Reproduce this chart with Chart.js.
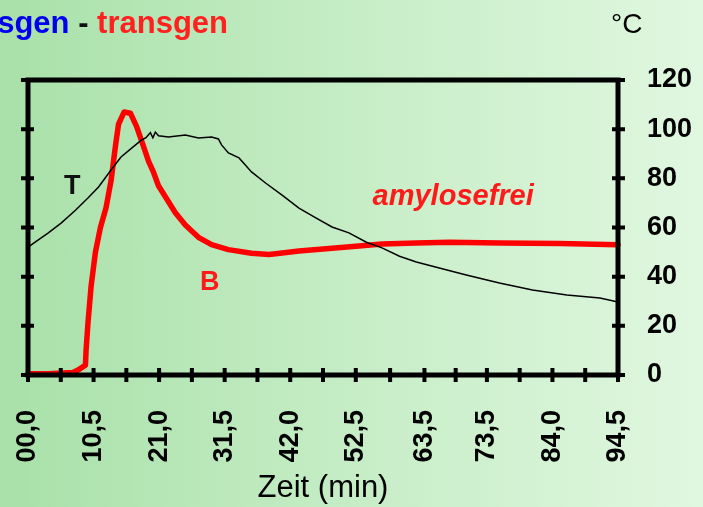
<!DOCTYPE html>
<html>
<head>
<meta charset="utf-8">
<script src="https://cdn.jsdelivr.net/npm/chart.js@4/dist/chart.umd.min.js"></script>
<style>
  html, body { margin: 0; padding: 0; }
  body {
    width: 703px; height: 507px; overflow: hidden;
    background: linear-gradient(to right, #a8e0a8 0%, #c6edc6 50%, #e0f7e0 100%);
  }
  canvas { display: block; }
</style>
</head>
<body>
<canvas id="chart" width="703" height="507"></canvas>
<script>
// temperature T (black), minutes / °C
const timeT = [0, 3.2, 5.3, 7.6, 9.6, 11.3, 13.3, 14.9, 16.6, 18.2, 18.9, 19.6, 20.0, 20.4, 20.9, 22.5, 25.2, 27.3, 29.4, 30.5, 31.0, 32.1, 33.8, 35.8, 38.1, 40.7, 43.4, 46.1, 48.7, 51.4, 54.2, 56.7, 59.5, 62.2, 64.8, 70.2, 75.5, 80.8, 86.3, 91.6, 94.5];
const tempT = [52, 57.7, 61.8, 67, 72, 76.5, 83.4, 88.7, 92.3, 95.6, 96.5, 98.6, 96.5, 98.8, 97.3, 96.8, 97.6, 96.4, 96.8, 96, 93.6, 90.3, 88.3, 82.6, 78, 73.2, 67.9, 63.9, 60.2, 57.8, 54, 51.7, 48.3, 46, 44.2, 40.7, 37.4, 34.6, 32.5, 31.3, 29.7];

// viscosity B (red)
const timeB = [0, 3.2, 7.2, 8.0, 9.2, 9.3, 9.6, 10.1, 10.8, 11.6, 12.5, 13.3, 14.0, 14.5, 15.4, 16.4, 17.4, 18.5, 19.3, 20.1, 20.9, 22.0, 23.6, 25.2, 27.3, 29.4, 32.1, 35.8, 38.6, 40.7, 43.4, 48.7, 53.0, 56.7, 62.2, 67.5, 75.6, 85.2, 94.5];
const valB = [0.5, 0.5, 1, 2, 4, 10, 21, 36, 50, 60, 68, 79, 93, 102, 107, 106.5, 101, 93, 87, 82.5, 77, 72.5, 66, 61, 56, 53, 51, 49.5, 49, 49.6, 50.4, 51.6, 52.5, 53.3, 53.7, 54, 53.7, 53.5, 53];

// x axis labels
const xTickValues = [0, 10.5, 21, 31.5, 42, 52.5, 63.5, 73.5, 84, 94.5];
const xTickLabels = ["00,0", "10,5", "21,0", "31,5", "42,0", "52,5", "63,5", "73,5", "84,0", "94,5"];

const FONT = "'Liberation Sans', Arial, sans-serif";

function zip(xs, ys) {
    return xs.map((x, i) => ({ x: x, y: ys[i] }));
}

// frame, crossing tick marks, texts
const decor = {
    id: 'decor',
    afterDatasetsDraw(chart) {
        const ctx = chart.ctx;
        const a = chart.chartArea;
        const xs = chart.scales.x;
        const ys = chart.scales.y;
        ctx.save();
        ctx.strokeStyle = '#000';
        ctx.lineWidth = 5;
        ctx.strokeRect(a.left, a.top, a.right - a.left, a.bottom - a.top);

        ctx.lineWidth = 4;
        ctx.beginPath();
        // x ticks: label positions and the midpoints between them
        for (let i = 0; i < xTickValues.length; i++) {
            let vals = [xTickValues[i]];
            if (i < xTickValues.length - 1) vals.push((xTickValues[i] + xTickValues[i + 1]) / 2);
            vals.forEach(v => {
                const px = xs.getPixelForValue(v);
                ctx.moveTo(px, a.bottom - 7);
                ctx.lineTo(px, a.bottom + 7);
            });
        }
        ys.ticks.forEach(t => {
            const py = ys.getPixelForValue(t.value);
            ctx.moveTo(a.left - 7, py); ctx.lineTo(a.left + 6, py);
            ctx.moveTo(a.right - 6, py); ctx.lineTo(a.right + 7, py);
        });
        ctx.stroke();

        // heading
        ctx.textBaseline = 'alphabetic';
        ctx.font = 'bold 31px ' + FONT;
        ctx.textAlign = 'right';
        ctx.fillStyle = '#ff2020';
        ctx.fillText('transgen', 228, 33);
        let w = ctx.measureText('transgen').width;
        ctx.fillStyle = '#111';
        ctx.fillText(' - ', 228 - w, 33);
        w += ctx.measureText(' - ').width;
        ctx.fillStyle = '#0000ee';
        ctx.fillText('sgen', 228 - w, 33);

        ctx.font = '28px ' + FONT;
        ctx.fillStyle = '#000';
        ctx.textAlign = 'left';
        ctx.fillText('°C', 611, 33);

        // curve names
        ctx.textAlign = 'center';
        ctx.textBaseline = 'middle';
        ctx.font = 'bold 27px ' + FONT;
        ctx.fillStyle = '#111';
        ctx.fillText('T', xs.getPixelForValue(7.1), ys.getPixelForValue(76.5));
        ctx.fillStyle = '#ff1a1a';
        ctx.fillText('B', xs.getPixelForValue(29.1), ys.getPixelForValue(37.8));
        ctx.font = 'italic bold 29px ' + FONT;
        ctx.fillText('amylosefrei', xs.getPixelForValue(68.1), ys.getPixelForValue(72.4));
        ctx.restore();
    }
};

new Chart(document.getElementById('chart'), {
    type: 'line',
    data: {
        datasets: [{
            label: 'T',
            data: zip(timeT, tempT),
            borderColor: '#000',
            borderWidth: 1.5,
            pointRadius: 0,
            tension: 0,
            clip: false
        }, {
            label: 'B',
            data: zip(timeB, valB),
            borderColor: '#ff0000',
            borderWidth: 5.5,
            borderJoinStyle: 'round',
            borderCapStyle: 'round',
            pointRadius: 0,
            tension: 0,
            clip: false
        }]
    },
    options: {
        responsive: false,
        animation: false,
        layout: { padding: { left: 28, top: 80, right: 0, bottom: 0 } },
        plugins: { legend: { display: false }, tooltip: { enabled: false } },
        scales: {
            x: {
                type: 'linear',
                min: 0,
                max: 94.5,
                grid: { display: false, drawTicks: false },
                border: { display: false },
                afterBuildTicks: scale => {
                    scale.ticks = xTickValues.map(v => ({ value: v }));
                },
                afterFit: scale => {
                    scale.height = 132;
                    scale.paddingLeft = 0;
                    scale.paddingRight = 0;
                },
                ticks: {
                    autoSkip: false,
                    minRotation: 90,
                    maxRotation: 90,
                    padding: 35,
                    color: '#000',
                    font: { family: FONT, size: 27, weight: 'bold' },
                    callback: (v, i) => xTickLabels[i]
                },
                title: {
                    display: true,
                    text: 'Zeit (min)',
                    color: '#000',
                    padding: { top: 0, bottom: 0 },
                    font: { family: FONT, size: 31 }
                }
            },
            y: {
                position: 'right',
                min: 0,
                max: 120,
                grid: { display: false, drawTicks: false },
                border: { display: false },
                afterFit: scale => {
                    scale.width = 85;
                    scale.paddingTop = 0;
                    scale.paddingBottom = 0;
                },
                ticks: {
                    stepSize: 20,
                    padding: 29,
                    color: '#000',
                    font: { family: FONT, size: 27, weight: 'bold' }
                }
            }
        }
    },
    plugins: [decor]
});
</script>
</body>
</html>
